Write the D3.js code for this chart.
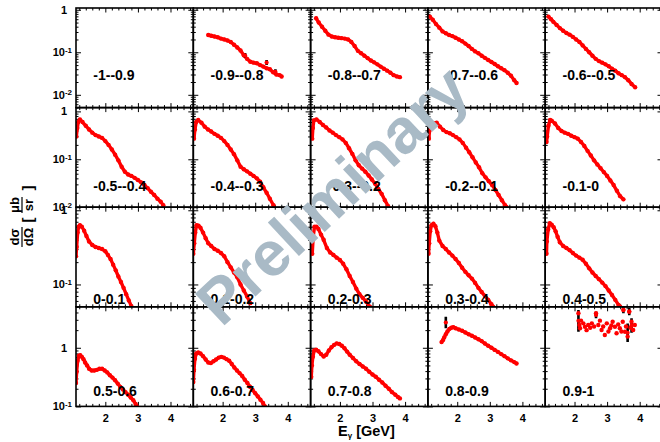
<!DOCTYPE html>
<html><head><meta charset="utf-8">
<script src="https://cdn.jsdelivr.net/npm/d3@7/dist/d3.min.js"></script>
<style>
body{margin:0;background:#fff}
svg{display:block}
text{font-family:"Liberation Sans",Arial,Helvetica,sans-serif;font-weight:bold}
</style>
</head><body>
<svg id="c" width="660" height="442"></svg>
<script>
// ---------- data ----------
const binLabels = ["-1--0.9","-0.9--0.8","-0.8--0.7","-0.7--0.6","-0.6--0.5",
  "-0.5--0.4","-0.4--0.3","-0.3--0.2","-0.2--0.1","-0.1-0",
  "0-0.1","0.1-0.2","0.2-0.3","0.3-0.4","0.4-0.5",
  "0.5-0.6","0.6-0.7","0.7-0.8","0.8-0.9","0.9-1"];
const xTickValues = [2,3,4];
const rowYDomains = [[0.005,1.1],[0.01,1.2],[0.05,1.1],[0.1,5]];
const rowLabelY = [0.022,0.022,0.055,0.15];

const bin_m10 = [];
const bin_m09 = [[1.56,0.255],[1.65,0.245],[1.75,0.235],[1.85,0.225],[1.95,0.21],[2.05,0.2],[2.15,0.19],[2.25,0.175],[2.35,0.15],[2.45,0.13],[2.55,0.11],[2.65,0.085],[2.75,0.07],[2.85,0.06],[2.95,0.057],[3.05,0.055],[3.15,0.05],[3.25,0.046],[3.35,0.042],[3.45,0.04],[3.55,0.034],[3.65,0.03],[3.75,0.029],[3.81,0.027]];
const bin_m08 = [[1.27,0.63],[1.35,0.5],[1.45,0.4],[1.55,0.32],[1.65,0.26],[1.75,0.235],[1.85,0.225],[1.95,0.22],[2.05,0.215],[2.15,0.21],[2.25,0.2],[2.35,0.175],[2.45,0.14],[2.55,0.108],[2.65,0.095],[2.75,0.083],[2.85,0.073],[2.95,0.064],[3.05,0.058],[3.15,0.052],[3.25,0.046],[3.35,0.041],[3.45,0.037],[3.55,0.033],[3.65,0.029],[3.75,0.027],[3.84,0.026]];
const bin_m07 = [[1.16,0.69],[1.25,0.58],[1.35,0.46],[1.45,0.38],[1.55,0.31],[1.65,0.28],[1.75,0.255],[1.85,0.24],[1.95,0.22],[2.05,0.2],[2.15,0.182],[2.25,0.16],[2.35,0.14],[2.45,0.12],[2.55,0.105],[2.65,0.095],[2.75,0.083],[2.85,0.074],[2.95,0.066],[3.05,0.059],[3.15,0.053],[3.25,0.047],[3.35,0.042],[3.45,0.038],[3.55,0.033],[3.65,0.028],[3.75,0.022],[3.82,0.019]];
const bin_m06 = [[1.2,0.69],[1.28,0.6],[1.35,0.52],[1.45,0.44],[1.55,0.37],[1.65,0.32],[1.75,0.285],[1.85,0.26],[1.95,0.23],[2.05,0.2],[2.15,0.175],[2.25,0.145],[2.35,0.12],[2.45,0.1],[2.55,0.083],[2.65,0.07],[2.75,0.062],[2.85,0.057],[2.95,0.052],[3.05,0.047],[3.15,0.041],[3.25,0.037],[3.35,0.032],[3.45,0.029],[3.55,0.026],[3.65,0.022],[3.75,0.018],[3.86,0.015]];
const bin_m05 = [[1.11,0.3],[1.14,0.45],[1.17,0.6],[1.22,0.68],[1.3,0.6],[1.4,0.5],[1.5,0.42],[1.6,0.36],[1.7,0.32],[1.8,0.3],[1.9,0.28],[2.0,0.24],[2.1,0.2],[2.2,0.16],[2.3,0.125],[2.4,0.095],[2.5,0.07],[2.6,0.055],[2.7,0.048],[2.8,0.045],[2.9,0.041],[3.0,0.037],[3.1,0.033],[3.2,0.029],[3.3,0.025],[3.4,0.021],[3.5,0.018],[3.6,0.015],[3.7,0.013],[3.78,0.011]];
const bin_m04 = [[1.12,0.27],[1.15,0.42],[1.19,0.6],[1.25,0.66],[1.35,0.58],[1.45,0.48],[1.55,0.42],[1.65,0.38],[1.75,0.34],[1.85,0.31],[1.95,0.28],[2.05,0.24],[2.15,0.2],[2.25,0.16],[2.35,0.128],[2.45,0.095],[2.55,0.07],[2.65,0.062],[2.75,0.056],[2.85,0.05],[2.95,0.045],[3.05,0.04],[3.15,0.034],[3.25,0.026],[3.35,0.02],[3.45,0.015],[3.56,0.011]];
const bin_m03 = [[1.15,0.27],[1.17,0.45],[1.2,0.65],[1.28,0.68],[1.38,0.6],[1.48,0.52],[1.58,0.46],[1.68,0.4],[1.78,0.36],[1.88,0.32],[1.98,0.29],[2.08,0.26],[2.18,0.22],[2.28,0.17],[2.38,0.13],[2.48,0.095],[2.58,0.075],[2.68,0.064],[2.78,0.055],[2.88,0.046],[2.98,0.038],[3.08,0.031],[3.18,0.024],[3.28,0.019],[3.38,0.014],[3.48,0.0105]];
const bin_m02 = [[1.13,0.27],[1.15,0.4],[1.2,0.52],[1.28,0.57],[1.37,0.58],[1.47,0.48],[1.57,0.41],[1.67,0.37],[1.77,0.35],[1.87,0.32],[1.97,0.29],[2.07,0.26],[2.17,0.22],[2.27,0.175],[2.37,0.14],[2.47,0.11],[2.57,0.086],[2.67,0.068],[2.77,0.051],[2.87,0.042],[2.97,0.035],[3.07,0.029],[3.17,0.023],[3.27,0.018],[3.37,0.014],[3.47,0.011],[3.51,0.0101]];
const bin_m01 = [[1.14,0.23],[1.16,0.3],[1.2,0.5],[1.25,0.66],[1.3,0.64],[1.4,0.56],[1.5,0.45],[1.6,0.39],[1.7,0.36],[1.8,0.34],[1.9,0.31],[2.0,0.29],[2.1,0.27],[2.2,0.23],[2.3,0.19],[2.4,0.15],[2.5,0.12],[2.6,0.095],[2.7,0.078],[2.8,0.065],[2.9,0.054],[3.0,0.045],[3.1,0.036],[3.2,0.029],[3.3,0.022],[3.4,0.017],[3.5,0.0146]];
const bin_p00 = [[1.1,0.24],[1.12,0.32],[1.15,0.5],[1.18,0.6],[1.22,0.63],[1.28,0.6],[1.35,0.53],[1.42,0.45],[1.5,0.38],[1.6,0.34],[1.7,0.32],[1.8,0.31],[1.9,0.3],[2.0,0.28],[2.08,0.25],[2.16,0.22],[2.24,0.185],[2.32,0.155],[2.4,0.128],[2.48,0.108],[2.56,0.09],[2.64,0.074],[2.72,0.061],[2.8,0.051]];
const bin_p01 = [[1.1,0.26],[1.13,0.36],[1.16,0.5],[1.2,0.63],[1.26,0.62],[1.32,0.58],[1.4,0.5],[1.48,0.42],[1.56,0.36],[1.65,0.33],[1.75,0.3],[1.85,0.285],[1.95,0.265],[2.05,0.24],[2.15,0.2],[2.25,0.17],[2.35,0.145],[2.45,0.125],[2.55,0.1],[2.65,0.083],[2.75,0.069],[2.85,0.056]];
const bin_p02 = [[1.15,0.26],[1.18,0.44],[1.22,0.6],[1.28,0.6],[1.34,0.56],[1.42,0.47],[1.5,0.4],[1.6,0.31],[1.7,0.27],[1.8,0.25],[1.9,0.23],[2.0,0.214],[2.1,0.19],[2.2,0.16],[2.3,0.13],[2.4,0.108],[2.5,0.088],[2.6,0.074],[2.7,0.066],[2.8,0.059],[2.92,0.05]];
const bin_p03 = [[1.12,0.26],[1.14,0.36],[1.17,0.52],[1.21,0.63],[1.27,0.66],[1.33,0.61],[1.39,0.5],[1.45,0.39],[1.55,0.33],[1.65,0.3],[1.75,0.27],[1.85,0.245],[1.95,0.22],[2.05,0.195],[2.15,0.168],[2.25,0.148],[2.35,0.133],[2.45,0.12],[2.55,0.105],[2.65,0.09],[2.75,0.079],[2.85,0.07],[2.95,0.062],[3.05,0.054],[3.1,0.05]];
const bin_p04 = [[1.14,0.26],[1.15,0.38],[1.19,0.55],[1.24,0.67],[1.3,0.64],[1.36,0.59],[1.42,0.52],[1.48,0.44],[1.55,0.37],[1.65,0.33],[1.75,0.31],[1.85,0.29],[1.95,0.265],[2.05,0.245],[2.15,0.23],[2.25,0.215],[2.35,0.19],[2.45,0.165],[2.55,0.145],[2.65,0.13],[2.75,0.118],[2.85,0.106],[2.95,0.095],[3.05,0.083],[3.15,0.072],[3.25,0.062],[3.35,0.053],[3.4,0.05]];
const bin_p05 = [[1.1,0.25],[1.12,0.39],[1.15,0.6],[1.19,0.73],[1.23,0.75],[1.28,0.7],[1.33,0.64],[1.38,0.56],[1.44,0.5],[1.5,0.44],[1.58,0.41],[1.66,0.41],[1.74,0.42],[1.82,0.44],[1.9,0.44],[1.98,0.41],[2.06,0.38],[2.14,0.34],[2.22,0.31],[2.3,0.28],[2.38,0.245],[2.46,0.215],[2.54,0.195],[2.62,0.175],[2.7,0.158],[2.78,0.142],[2.86,0.127],[2.93,0.11],[2.97,0.1]];
const bin_p06 = [[1.1,0.26],[1.12,0.42],[1.15,0.65],[1.19,0.8],[1.25,0.83],[1.32,0.8],[1.4,0.72],[1.48,0.63],[1.56,0.56],[1.64,0.55],[1.72,0.59],[1.8,0.63],[1.88,0.68],[1.96,0.7],[2.04,0.68],[2.12,0.64],[2.2,0.6],[2.28,0.53],[2.36,0.46],[2.44,0.41],[2.52,0.37],[2.6,0.33],[2.68,0.285],[2.76,0.25],[2.84,0.217],[2.92,0.19],[3.0,0.168],[3.08,0.148],[3.16,0.13],[3.24,0.114],[3.3,0.1]];
const bin_p07 = [[1.12,0.32],[1.14,0.5],[1.17,0.7],[1.21,0.9],[1.27,0.93],[1.34,0.87],[1.42,0.78],[1.5,0.71],[1.58,0.76],[1.66,0.9],[1.74,1.02],[1.82,1.12],[1.9,1.19],[1.98,1.16],[2.06,1.08],[2.14,0.98],[2.22,0.86],[2.3,0.76],[2.4,0.67],[2.5,0.59],[2.6,0.53],[2.7,0.48],[2.8,0.44],[2.9,0.39],[3.0,0.35],[3.1,0.32],[3.2,0.285],[3.3,0.255],[3.4,0.225],[3.5,0.2],[3.6,0.175],[3.7,0.158],[3.78,0.145],[3.84,0.137]];
const bin_p08 = [[1.52,1.25],[1.56,1.35],[1.6,1.5],[1.65,1.7],[1.7,1.9],[1.76,2.1],[1.82,2.2],[1.88,2.25],[1.95,2.15],[2.05,2.05],[2.15,1.95],[2.25,1.82],[2.35,1.7],[2.45,1.6],[2.55,1.5],[2.65,1.4],[2.75,1.3],[2.85,1.18],[2.95,1.08],[3.05,1.0],[3.15,0.92],[3.25,0.85],[3.35,0.78],[3.45,0.72],[3.55,0.66],[3.65,0.61],[3.75,0.57],[3.82,0.54]];
const bin_p09 = [[2.12,3.87],[2.15,2.44],[2.17,2.15],[2.2,2.9],[2.27,2.61],[2.32,2.29],[2.37,2.0],[2.42,2.44],[2.48,2.2],[2.53,2.61],[2.6,2.3],[2.66,3.87],[2.73,2.44],[2.78,2.9],[2.83,2.01],[2.88,2.3],[2.93,1.65],[2.99,2.61],[3.04,1.9],[3.09,2.15],[3.13,2.4],[3.17,2.78],[3.24,2.29],[3.29,1.77],[3.34,2.5],[3.39,2.15],[3.44,1.9],[3.48,2.78],[3.5,4.41],[3.55,1.88],[3.58,2.3],[3.63,1.55],[3.68,4.12],[3.72,2.2],[3.75,2.78],[3.8,2.01],[3.85,2.44]];

// error bars: [panel, E, low, high]
const errorBars = [[1,2.69,0.073,0.096],[1,3.35,0.05,0.066],[1,3.62,0.03,0.04],
  [18,1.65,2.15,3.39],
  [19,2.12,1.88,4.41],[19,2.66,3.2,4.12],[19,3.5,3.9,5.0],[19,3.63,1.25,2.6],[19,3.68,3.6,4.8],[19,3.75,1.8,3.2]];

const series = [bin_m10,bin_m09,bin_m08,bin_m07,bin_m06,bin_m05,bin_m04,bin_m03,bin_m02,bin_m01,
  bin_p00,bin_p01,bin_p02,bin_p03,bin_p04,bin_p05,bin_p06,bin_p07,bin_p08,bin_p09];
const scatterOnly = [19];

// ---------- layout ----------
const colLeft = 76, colW = 117.3, rowTop = 8, rowH = 99.6;
const svg = d3.select("#c");
const x = d3.scaleLinear().domain([1.1,4.7]).range([0,colW]);
const xMinor = d3.range(12,47,2).map(v=>v/10).filter(v=>!xTickValues.includes(v));

function logTicks(dom){
  const maj=[],min=[];
  for(let e=-3;e<=1;e++){
    for(let k=1;k<10;k++){
      const v=k*Math.pow(10,e);
      if(v>=dom[0]*0.999 && v<=dom[1]*1.001){ (k===1?maj:min).push(v); }
    }
  }
  return {maj,min};
}

const red="#ff0000";
series.forEach((data,i)=>{
  const r=Math.floor(i/5), c=i%5;
  const dom=rowYDomains[r];
  const y=d3.scaleLog().domain(dom).range([rowH,0]);
  const g=svg.append("g").attr("transform",`translate(${colLeft+c*colW},${rowTop+r*rowH})`);
  const cid="clip"+i;
  g.append("clipPath").attr("id",cid).append("rect").attr("width",colW).attr("height",rowH);
  const lt=logTicks(dom);

  const addAxis=(axis,tf)=>{
    const a=g.append("g").attr("transform",tf).call(axis);
    a.select(".domain").remove();
    a.selectAll("line").attr("stroke","#000").attr("stroke-width",1);
    return a;
  };
  addAxis(d3.axisBottom(x).tickValues(xMinor).tickSize(-2.5).tickFormat(""),`translate(0,${rowH})`);
  addAxis(d3.axisTop(x).tickValues(xMinor).tickSize(-2.5).tickFormat(""),`translate(0,0)`);
  addAxis(d3.axisTop(x).tickValues(xTickValues).tickSize(-4.5).tickFormat(""),`translate(0,0)`);
  const bx=addAxis(d3.axisBottom(x).tickValues(xTickValues).tickSize(-4.5).tickPadding(8)
     .tickFormat(r===3?d3.format("d"):""),`translate(0,${rowH})`);
  bx.selectAll("text").attr("fill","#000").style("font-size","11px").style("font-family","Liberation Sans, Arial, sans-serif").style("font-weight","bold");
  addAxis(d3.axisLeft(y).tickValues(lt.min).tickSize(-2.5).tickFormat(""),`translate(0,0)`);
  addAxis(d3.axisLeft(y).tickValues(lt.maj).tickSize(-5).tickFormat(""),`translate(0,0)`);
  addAxis(d3.axisRight(y).tickValues(lt.min).tickSize(-2.5).tickFormat(""),`translate(${colW},0)`);
  addAxis(d3.axisRight(y).tickValues(lt.maj).tickSize(-5).tickFormat(""),`translate(${colW},0)`);

  if(c===0){
    lt.maj.forEach(v=>{
      const e=Math.round(Math.log10(v));
      if(e===0){
        g.append("text").attr("x",-9).attr("y",y(v)).attr("dy","0.36em")
          .attr("text-anchor","end").style("font-size","11px").text("1");
      } else {
        const t=g.append("text").attr("x",-4).attr("y",y(v)).attr("dy","0.36em")
          .attr("text-anchor","end").style("font-size","11px");
        t.append("tspan").text("10");
        t.append("tspan").attr("dy","-0.45em").style("font-size","8px").text(String(e));
      }
    });
  }

  const pg=g.append("g").attr("clip-path",`url(#${cid})`);
  if(!scatterOnly.includes(i) && data.length){
    pg.append("path").datum(data)
      .attr("d",d3.line().x(d=>x(d[0])).y(d=>y(d[1])))
      .attr("fill","none").attr("stroke",red).attr("stroke-width",3.4)
      .attr("stroke-linejoin","round").attr("stroke-linecap","round");
  }
  errorBars.filter(e=>e[0]===i).forEach(e=>{
    pg.append("line").attr("x1",x(e[1])).attr("x2",x(e[1]))
      .attr("y1",y(e[2])).attr("y2",y(e[3])).attr("stroke","#000").attr("stroke-width",2.6);
    pg.append("circle").attr("cx",x(e[1])).attr("cy",y(Math.sqrt(e[2]*e[3]))).attr("r",2.1).attr("fill",red);
  });
  pg.selectAll("circle.pt").data(data).join("circle").attr("class","pt")
    .attr("cx",d=>x(d[0])).attr("cy",d=>y(d[1])).attr("r",2.2).attr("fill",red);

  g.append("rect").attr("width",colW).attr("height",rowH)
    .attr("fill","none").attr("stroke","#000").attr("stroke-width",1.6);

  g.append("text").attr("x",x(1.63)).attr("y",y(rowLabelY[r]))
    .style("font-size","14px").attr("fill","#000").text(binLabels[i]);
});

// axis titles
const yt=svg.append("g").attr("transform","translate(22,218) rotate(-90)").style("font-size","13px");
yt.append("text").attr("x",-19).attr("y",-3).attr("text-anchor","middle").text("d\u03c3");
yt.append("line").attr("x1",-29).attr("x2",-9).attr("y1",0).attr("y2",0).attr("stroke","#000").attr("stroke-width",1.2);
yt.append("text").attr("x",-19).attr("y",11).attr("text-anchor","middle").text("d\u03a9");
yt.append("text").attr("x",-2).attr("y",11).attr("text-anchor","middle").style("font-size","15px").text("[");
yt.append("text").attr("x",13).attr("y",-3).attr("text-anchor","middle").text("\u03bcb");
yt.append("line").attr("x1",5).attr("x2",21).attr("y1",0).attr("y2",0).attr("stroke","#000").attr("stroke-width",1.2);
yt.append("text").attr("x",13).attr("y",11).attr("text-anchor","middle").text("sr");
yt.append("text").attr("x",30).attr("y",11).attr("text-anchor","middle").style("font-size","15px").text("]");

const xt=svg.append("text").attr("x",338).attr("y",436).style("font-size","14.5px");
xt.append("tspan").text("E");
xt.append("tspan").attr("dy","2").style("font-size","8px").text("\u03b3");
xt.append("tspan").attr("dy","-2").text(" [GeV]");

// watermark
svg.append("text").attr("transform","translate(332,195) rotate(-43)")
  .attr("text-anchor","middle").attr("dy","0.35em")
  .style("font-size","63px").attr("fill","#a9bac6").text("Preliminary");
</script>
</body></html>
